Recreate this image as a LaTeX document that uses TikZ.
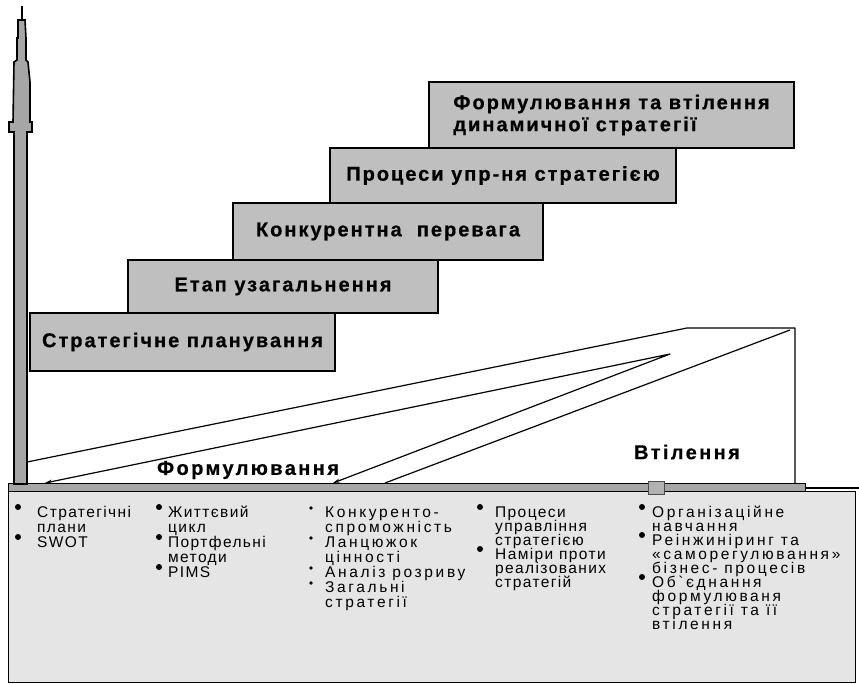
\documentclass[tikz,border=0pt]{standalone}
\usepackage{fontspec}
\setmainfont{Liberation Sans}
\newfontfamily\stepfont[LetterSpace=10,FakeBold=0.6]{Liberation Sans Bold}
\newfontfamily\phasefont[LetterSpace=12,FakeBold=0.6]{Liberation Sans Bold}
\newfontfamily\itemfont[LetterSpace=9]{Liberation Sans}
\newfontfamily\itemwidefont[LetterSpace=17]{Liberation Sans}
\usetikzlibrary{arrows.meta}

\begin{document}
\begin{tikzpicture}[x=1pt,y=-1pt,
  stagebox/.style={draw=black,line width=1.4pt,fill=black!25,inner sep=0pt,
    font=\stepfont\fontsize{20}{22}\selectfont},
  phase/.style={inner sep=0pt,font=\phasefont\fontsize{20}{22}\selectfont},
  wedge/.style={draw=black,line width=1.2pt,line join=round},
  listtxt/.style={anchor=base west,inner sep=0pt,font=\itemfont\fontsize{15.5}{15}\selectfont},
  listwide/.style={listtxt,font=\itemwidefont\fontsize{15.5}{15}\selectfont},
]
\useasboundingbox (0,0) rectangle (859,684);

% lower panel with the list of methods
\path[draw=black,line width=0.8pt,fill=black!10] (8,491) rectangle (855,682);

% horizontal axis
\path[draw=black,line width=0.8pt,fill=black!35] (8,483) rectangle (805,491);
\path[draw=black!70,line width=0.6pt,fill=black!30] (648,481) rectangle (664,494);
\draw[line width=2.5pt] (805,488) -- (859,488);

% vertical axis shaped like a mast
\path[draw=black,line width=1.6pt,fill=black!35]
  (14,484) -- (14,132) -- (9,132) -- (9,122) -- (13,122) -- (14,62) -- (17,60)
  -- (17,38) -- (18,38) -- (18,20) -- (25,20) -- (26,38) -- (26,60) -- (28,62)
  -- (30,82) -- (30,122) -- (32,122) -- (32,132) -- (27,132) -- (27,484) -- cycle;
\fill (20.5,20) rectangle (23,6);

% stages
\node[stagebox,minimum width=305pt,minimum height=58pt] (s1) at (182.5,342) {Стратегічне планування};
\node[stagebox,minimum width=310pt,minimum height=53pt] (s2) at (283,286.5) {Етап узагальнення};
\node[stagebox,minimum width=310pt,minimum height=57pt] (s3) at (388,231.5) {Конкурентна\ \ перевага};
\node[stagebox,minimum width=346pt,minimum height=55pt] (s4) at (503,175.5) {Процеси упр-ня стратегією};
\node[stagebox,minimum width=365pt,minimum height=66pt,align=left] (s5) at (611.5,115)
  {Формулювання та втілення\\динамичної стратегії};

% formulation and implementation wedges
\coordinate (a0) at (27,462);
\coordinate (a1) at (687,328);
\coordinate (a2) at (795,328);
\coordinate (a3) at (795,483);
\coordinate (d0) at (790,330);
\coordinate (d1) at (385,483);
\coordinate (b0) at (45,483);
\coordinate (b1) at (670,354);
\coordinate (c0) at (333,483);
\draw[wedge] (a0) -- (a1) -- (a2) -- (a3);
\draw[wedge] (d0) -- (d1);
\draw[wedge,{Stealth[length=7pt,width=4pt]}-{Stealth[length=7pt,width=4pt]}] (b0) -- (b1) -- (c0);

\node[phase] (form) at (248,470) {Формулювання};
\node[phase] (impl) at (687,452) {Втілення};

% list columns
\foreach \t [count=\i] in {Стратегічні,плани,SWOT}
  \node[listtxt] (ca\i) at (37,{517+15*(\i-1)}) {\t};
\foreach \t [count=\i] in {Життєвий,цикл,Портфельні,методи,PIMS}
  \node[listtxt] (cb\i) at (168,{517+15*(\i-1)}) {\t};
\foreach \t [count=\i] in {Конкуренто-,спроможність,Ланцюжок,цінності,Аналіз розриву,Загальні,стратегії}
  \node[listwide] (cc\i) at (325,{517+15*(\i-1)}) {\t};
\foreach \t [count=\i] in {Процеси,управління,стратегією,Наміри проти,реалізованих,стратегій}
  \node[listtxt] (cd\i) at (495,{517+14*(\i-1)}) {\t};
\foreach \t [count=\i] in {Організаційне,навчання,Реінжиніринг та,«саморегулювання»,бізнес- процесів,Об`єднання,формулюваня,стратегії та її,втілення}
  \node[listwide] (ce\i) at (652,{517+14*(\i-1)}) {\t};

% bullets
\foreach \n in {1,3} \fill (18,{507+15*(\n-1)}) circle (3pt);
\foreach \n in {1,3,5} \fill (159,{507+15*(\n-1)}) circle (3pt);
\foreach \n in {1,3,5,6} \fill (311,{508+15*(\n-1)}) circle (1.8pt);
\foreach \n in {1,4} \fill (480,{507+14*(\n-1)}) circle (3pt);
\foreach \n in {1,3,6} \fill (642,{507+14*(\n-1)}) circle (3pt);
\end{tikzpicture}
\end{document}
